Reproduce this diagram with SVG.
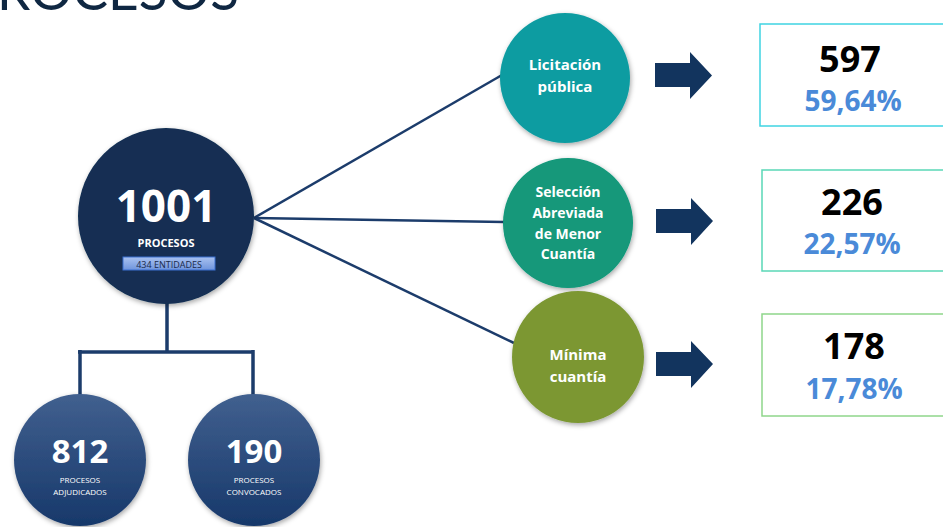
<svg xmlns="http://www.w3.org/2000/svg" width="943" height="527" viewBox="0 0 943 527">
<defs>
<style>
.lbl{font-family:"Open Sans","Liberation Sans",sans-serif;font-weight:700;fill:#fff;text-anchor:middle}
.sub{font-family:"Open Sans","Liberation Sans",sans-serif;font-weight:400;fill:#fff;text-anchor:middle;font-size:8px}
.num{font-family:"Open Sans","Liberation Sans",sans-serif;font-weight:700;fill:#000;text-anchor:middle;font-size:36px}
.pct{font-family:"Open Sans","Liberation Sans",sans-serif;font-weight:700;fill:#4a8ad8;text-anchor:middle;font-size:28px}
.conn{stroke:#1c3c6b;stroke-width:2.5;fill:none}
.tree{stroke:#1c3c6b;stroke-width:3.5;fill:none}
.arrow{fill:#12345e}
.box{fill:#fff;stroke-width:1.5}
</style>
<linearGradient id="gSmall" x1="0" y1="0" x2="0" y2="1">
<stop offset="0" stop-color="#41608f"/>
<stop offset="1" stop-color="#17386a"/>
</linearGradient>
<linearGradient id="gTag" x1="0" y1="0" x2="0" y2="1">
<stop offset="0" stop-color="#a9c2f0"/>
<stop offset="1" stop-color="#6f94dc"/>
</linearGradient>
<filter id="sh" x="-20%" y="-20%" width="140%" height="140%">
<feDropShadow dx="1" dy="2" stdDeviation="2.5" flood-color="#000" flood-opacity="0.35"/>
</filter>
</defs>
<rect width="943" height="527" fill="#fff"/>
<text x="-3" y="10" font-family="Lato,'Open Sans',sans-serif" font-size="54" fill="#0f2742" textLength="242" lengthAdjust="spacingAndGlyphs">ROCESOS</text>

<g id="connectors">
<line class="conn" x1="254" y1="218" x2="502" y2="75"/>
<line class="conn" x1="254" y1="218" x2="504" y2="222"/>
<line class="conn" x1="254" y1="218" x2="514" y2="343"/>
<path class="tree" d="M167 300 V352 M78 352 H254 M80 350 V396 M253 350 V396"/>
</g>

<g id="n1001">
<circle cx="166" cy="216" r="88" fill="#122f52" filter="url(#sh)"/>
<text class="lbl" x="166" y="222" font-size="44">1001</text>
<text class="lbl" x="166" y="247" font-size="11">PROCESOS</text>
<rect x="123" y="257" width="92" height="13" fill="url(#gTag)" stroke="#3a6fd0" stroke-width="1"/>
<text x="169" y="267.5" font-family="'Open Sans','Liberation Sans',sans-serif" font-size="9" fill="#1a2a4a" text-anchor="middle">434 ENTIDADES</text>
</g>

<g id="n812">
<circle cx="80" cy="460" r="66" fill="url(#gSmall)" filter="url(#sh)"/>
<text class="lbl" x="80" y="463" font-size="33">812</text>
<text class="sub" x="80" y="483">PROCESOS</text>
<text class="sub" x="80" y="495">ADJUDICADOS</text>
</g>

<g id="n190">
<circle cx="254" cy="460" r="66" fill="url(#gSmall)" filter="url(#sh)"/>
<text class="lbl" x="254" y="463" font-size="33">190</text>
<text class="sub" x="254" y="483">PROCESOS</text>
<text class="sub" x="254" y="495">CONVOCADOS</text>
</g>

<g id="licitacion">
<circle cx="565" cy="78" r="65" fill="#0b9ca1" filter="url(#sh)"/>
<text class="lbl" x="565" y="70" font-size="15">Licitación</text>
<text class="lbl" x="565" y="92" font-size="15">pública</text>
</g>

<g id="seleccion">
<circle cx="568" cy="223" r="65" fill="#12987a" filter="url(#sh)"/>
<text class="lbl" x="568" y="197" font-size="14">Selección</text>
<text class="lbl" x="568" y="218" font-size="14">Abreviada</text>
<text class="lbl" x="568" y="239" font-size="14">de Menor</text>
<text class="lbl" x="568" y="259" font-size="14">Cuantía</text>
</g>

<g id="minima">
<circle cx="578" cy="357" r="66" fill="#7b9733" filter="url(#sh)"/>
<text class="lbl" x="578" y="360" font-size="15">Mínima</text>
<text class="lbl" x="578" y="382" font-size="15">cuantía</text>
</g>

<g id="arrows">
<polygon class="arrow" points="655,63 690,63 690,52 712,75.5 690,99 690,87 655,87"/>
<polygon class="arrow" points="656,209 691,209 691,198 713,221 691,245 691,233 656,233"/>
<polygon class="arrow" points="656,352 691,352 691,341 713,364 691,388 691,376 656,376"/>
</g>

<g id="box597">
<rect class="box" x="760" y="24" width="190" height="102" stroke="#3fd4e2"/>
<text class="num" x="850" y="72">597</text>
<text class="pct" x="853" y="111">59,64%</text>
</g>

<g id="box226">
<rect class="box" x="762" y="170" width="190" height="101" stroke="#5ad7b6"/>
<text class="num" x="852" y="215">226</text>
<text class="pct" x="852" y="254">22,57%</text>
</g>

<g id="box178">
<rect class="box" x="762" y="314" width="190" height="102" stroke="#8fd68b"/>
<text class="num" x="854" y="359">178</text>
<text class="pct" x="854" y="399">17,78%</text>
</g>
</svg>
